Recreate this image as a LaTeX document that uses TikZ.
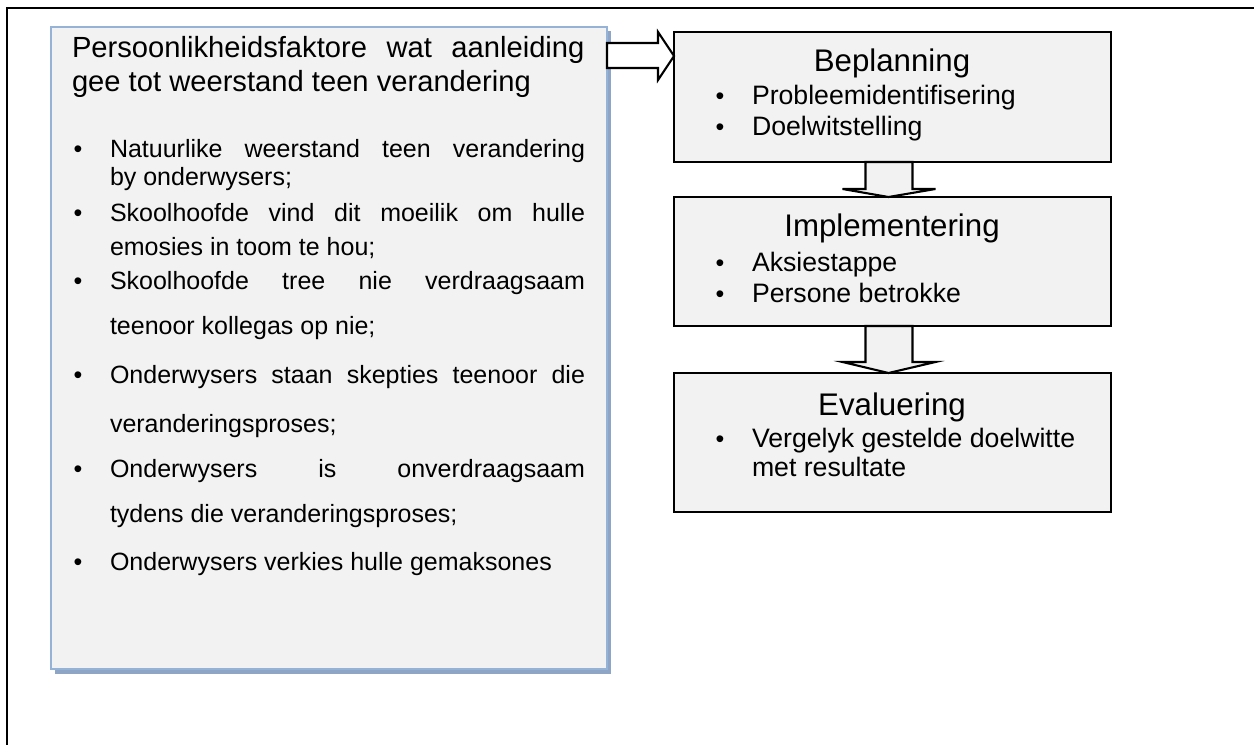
\documentclass[tikz,border=0pt]{standalone}
\usepackage{fontspec}
\setmainfont{Liberation Sans}
\usetikzlibrary{calc}
\definecolor{boxfill}{HTML}{F2F2F2}
\definecolor{lbline}{HTML}{95B3D7}
\definecolor{lbshadow}{HTML}{8EA5C6}

% a justified line of fixed width
\newcommand{\jline}[2]{\makebox[#1][s]{#2}}

\begin{document}
\begin{tikzpicture}[x=0.48pt,y=-0.48pt,
  every node/.style={inner sep=0pt,outer sep=0pt},
  stagebox/.style={draw=black,line width=1pt,fill=boxfill,anchor=north west,
    minimum width=437*0.48pt},
  leftbox/.style={draw=lbline,line width=1.2pt,fill=boxfill,anchor=north west,
    minimum width=556*0.48pt,minimum height=642*0.48pt},
  ltxt/.style={anchor=base west,font=\fontsize{12pt}{14pt}\selectfont},
  rtxt/.style={anchor=base west,font=\fontsize{12.8pt}{15pt}\selectfont},
  ttl/.style={anchor=base west,font=\fontsize{14pt}{16pt}\selectfont},
  stitle/.style={anchor=base,font=\fontsize{15pt}{17pt}\selectfont},
  bul/.style={anchor=base,font=\fontsize{12pt}{14pt}\selectfont},
  blockarrow/.style={draw=black,line width=1pt,fill=boxfill,line join=miter},
  harrow/.style={draw=black,line width=1pt,fill=white,line join=miter}]

\useasboundingbox (0,0) rectangle (1254,745);

% outer frame (runs off the page to the right and bottom)
\draw[line width=1pt] (7,760) -- (7,8) -- (1270,8);

% left box with its shadow
\fill[lbshadow] (55,31) rectangle (611,674);
\node[leftbox] (lb) at (51,27) {};

% title of the left box
\node[ttl] (t1) at (72,58) {\jline{246pt}{Persoonlikheidsfaktore wat aanleiding}};
\node[ttl] (t2) at (72,92) {gee tot weerstand teen verandering};

% bullet list of the left box
\node[bul] (lb1) at (78,158) {•};
\node[ltxt] (l1a) at (110,158) {\jline{228pt}{Natuurlike weerstand teen verandering}};
\node[ltxt] (l1b) at (110,186) {by onderwysers;};
\node[bul] (lb2) at (78,222) {•};
\node[ltxt] (l2a) at (110,222) {\jline{228pt}{Skoolhoofde vind dit moeilik om hulle}};
\node[ltxt] (l2b) at (110,256) {emosies in toom te hou;};
\node[bul] (lb3) at (78,290) {•};
\node[ltxt] (l3a) at (110,290) {\jline{228pt}{Skoolhoofde tree nie verdraagsaam}};
\node[ltxt] (l3b) at (110,334) {teenoor kollegas op nie;};
\node[bul] (lb4) at (78,384) {•};
\node[ltxt] (l4a) at (110,384) {\jline{228pt}{Onderwysers staan skepties teenoor die}};
\node[ltxt] (l4b) at (110,432) {veranderingsproses;};
\node[bul] (lb5) at (78,477) {•};
\node[ltxt] (l5a) at (110,477) {\jline{228pt}{Onderwysers is onverdraagsaam}};
\node[ltxt] (l5b) at (110,522) {tydens die veranderingsproses;};
\node[bul] (lb6) at (78,570) {•};
\node[ltxt] (l6a) at (110,570) {Onderwysers verkies hulle gemaksones};

% the three stages
\node[stagebox,minimum height=130*0.48pt] (b1) at (674,32) {};
\node[stagebox,minimum height=129*0.48pt] (b2) at (674,197) {};
\node[stagebox,minimum height=139*0.48pt] (b3) at (674,373) {};

\node[stitle] (b1t) at (892,72) {Beplanning};
\node[bul] at (720,105) {•};
\node[rtxt] (b1a) at (752,105) {Probleemidentifisering};
\node[bul] at (720,136) {•};
\node[rtxt] (b1b) at (752,136) {Doelwitstelling};

\node[stitle] (b2t) at (892,237) {Implementering};
\node[bul] at (720,271) {•};
\node[rtxt] (b2a) at (752,271) {Aksiestappe};
\node[bul] at (720,303) {•};
\node[rtxt] (b2b) at (752,303) {Persone betrokke};

\node[stitle] (b3t) at (892,415) {Evaluering};
\node[bul] at (720,448) {•};
\node[rtxt] (b3a) at (752,448) {Vergelyk gestelde doelwitte};
\node[rtxt] (b3b) at (752,476) {met resultate};

% block arrow from the left box to the first stage
\draw[harrow] ($(lb.north east)+(0,16)$) -- ($(b1.north west)+(-16,11)$)
  -- ($(b1.north west)+(-16,0)$) -- ($(b1.north west)+(0,24)$)
  -- ($(b1.north west)+(-16,48)$) -- ($(b1.north west)+(-16,36)$)
  -- ($(lb.north east)+(0,41)$) -- cycle;

% block arrows between the stages
\draw[blockarrow] ($(b1.south)+(-27,0)$) -- ($(b2.north)+(-27,-8)$)
  -- ($(b2.north)+(-50,-8)$) -- ($(b2.north)+(-4,0)$)
  -- ($(b2.north)+(43,-8)$) -- ($(b2.north)+(20,-8)$)
  -- ($(b1.south)+(20,0)$) -- cycle;
\draw[blockarrow] ($(b2.south)+(-27,0)$) -- ($(b3.north)+(-27,-11)$)
  -- ($(b3.north)+(-50,-11)$) -- ($(b3.north)+(-4,0)$)
  -- ($(b3.north)+(43,-11)$) -- ($(b3.north)+(20,-11)$)
  -- ($(b2.south)+(20,0)$) -- cycle;
\end{tikzpicture}
\end{document}
